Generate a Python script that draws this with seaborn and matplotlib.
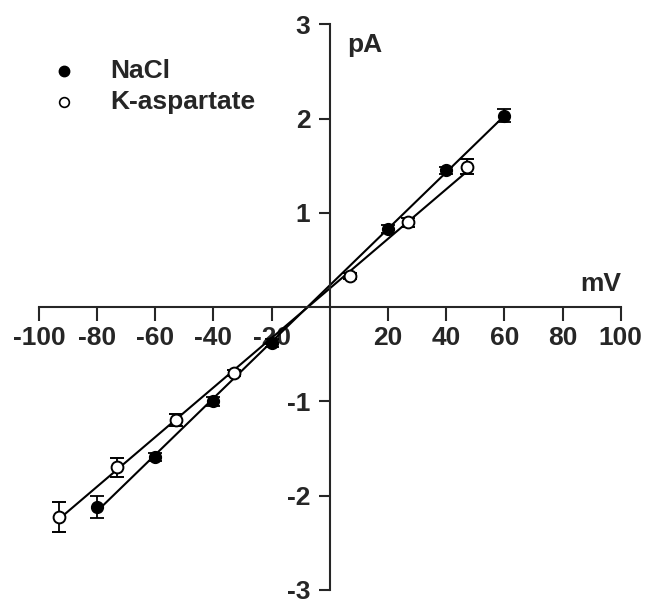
import numpy as np
import seaborn as sns
import matplotlib.pyplot as plt

# --- data ---
nacl_mv = [-80, -60, -40, -20, 20, 40, 60]
nacl_pa = [-2.12, -1.59, -1.00, -0.38, 0.83, 1.45, 2.03]
nacl_err = [0.12, 0.04, 0.05, 0.04, 0.04, 0.04, 0.07]

kasp_mv = [-93, -73, -53, -33, 7, 27, 47]
kasp_pa = [-2.23, -1.70, -1.20, -0.70, 0.33, 0.90, 1.49]
kasp_err = [0.16, 0.10, 0.06, 0.03, 0.03, 0.05, 0.08]

x_ticks = [-100, -80, -60, -40, -20, 20, 40, 60, 80, 100]
y_ticks = [-3, -2, -1, 1, 2, 3]

sns.set_style("ticks")
plt.rcParams['font.family'] = ['Liberation Sans', 'DejaVu Sans']

fig = plt.figure(figsize=(6.48, 6.08), dpi=100)
ax = fig.add_axes([0.060, 0.03, 0.898, 0.93])

# linear fits, drawn over each data range
for xs, ys in [(nacl_mv, nacl_pa), (kasp_mv, kasp_pa)]:
    sns.regplot(x=np.array(xs), y=np.array(ys), ax=ax, ci=None, scatter=False,
                truncate=True, line_kws=dict(color='black', lw=1.5))

ax.errorbar(nacl_mv, nacl_pa, yerr=nacl_err, fmt='o', color='black', ms=8.5,
            capsize=5, elinewidth=1.3, capthick=1.3, zorder=3)
ax.errorbar(kasp_mv, kasp_pa, yerr=kasp_err, fmt='o', color='black', mfc='white',
            mew=1.4, ms=8.5, capsize=5, elinewidth=1.3, capthick=1.3, zorder=3)

ax.set_xlim(-100, 100)
ax.set_ylim(-3, 3)

# axes crossing at the origin
ax.spines['left'].set_position(('data', 0))
ax.spines['bottom'].set_position(('data', 0))
ax.spines['right'].set_visible(False)
ax.spines['top'].set_visible(False)
for s in ['left', 'bottom']:
    ax.spines[s].set_linewidth(1.5)

ax.set_xticks(x_ticks)
ax.set_yticks(y_ticks)
ax.set_xticklabels([str(v) for v in x_ticks], fontsize=19, fontweight='bold')
ax.set_yticklabels([str(v) for v in y_ticks], fontsize=19, fontweight='bold')
ax.tick_params(axis='x', direction='out', length=10, width=1.5, pad=4)
ax.tick_params(axis='y', direction='out', length=8, width=1.5, pad=6)

ax.text(6, 2.78, "pA", fontsize=19, fontweight='bold', va='center', ha='left')
ax.text(100, 0.24, "mV", fontsize=19, fontweight='bold', va='center', ha='right')

# legend
ax.plot([-91.5], [2.5], 'o', color='black', ms=7.5, clip_on=False)
ax.plot([-91.5], [2.18], 'o', color='black', mfc='white', mew=1.2, ms=7, clip_on=False)
ax.text(-75.5, 2.5, "NaCl", fontsize=19, fontweight='bold', va='center')
ax.text(-75.5, 2.18, "K-aspartate", fontsize=19, fontweight='bold', va='center')

fig.savefig("out.png", dpi=100)
